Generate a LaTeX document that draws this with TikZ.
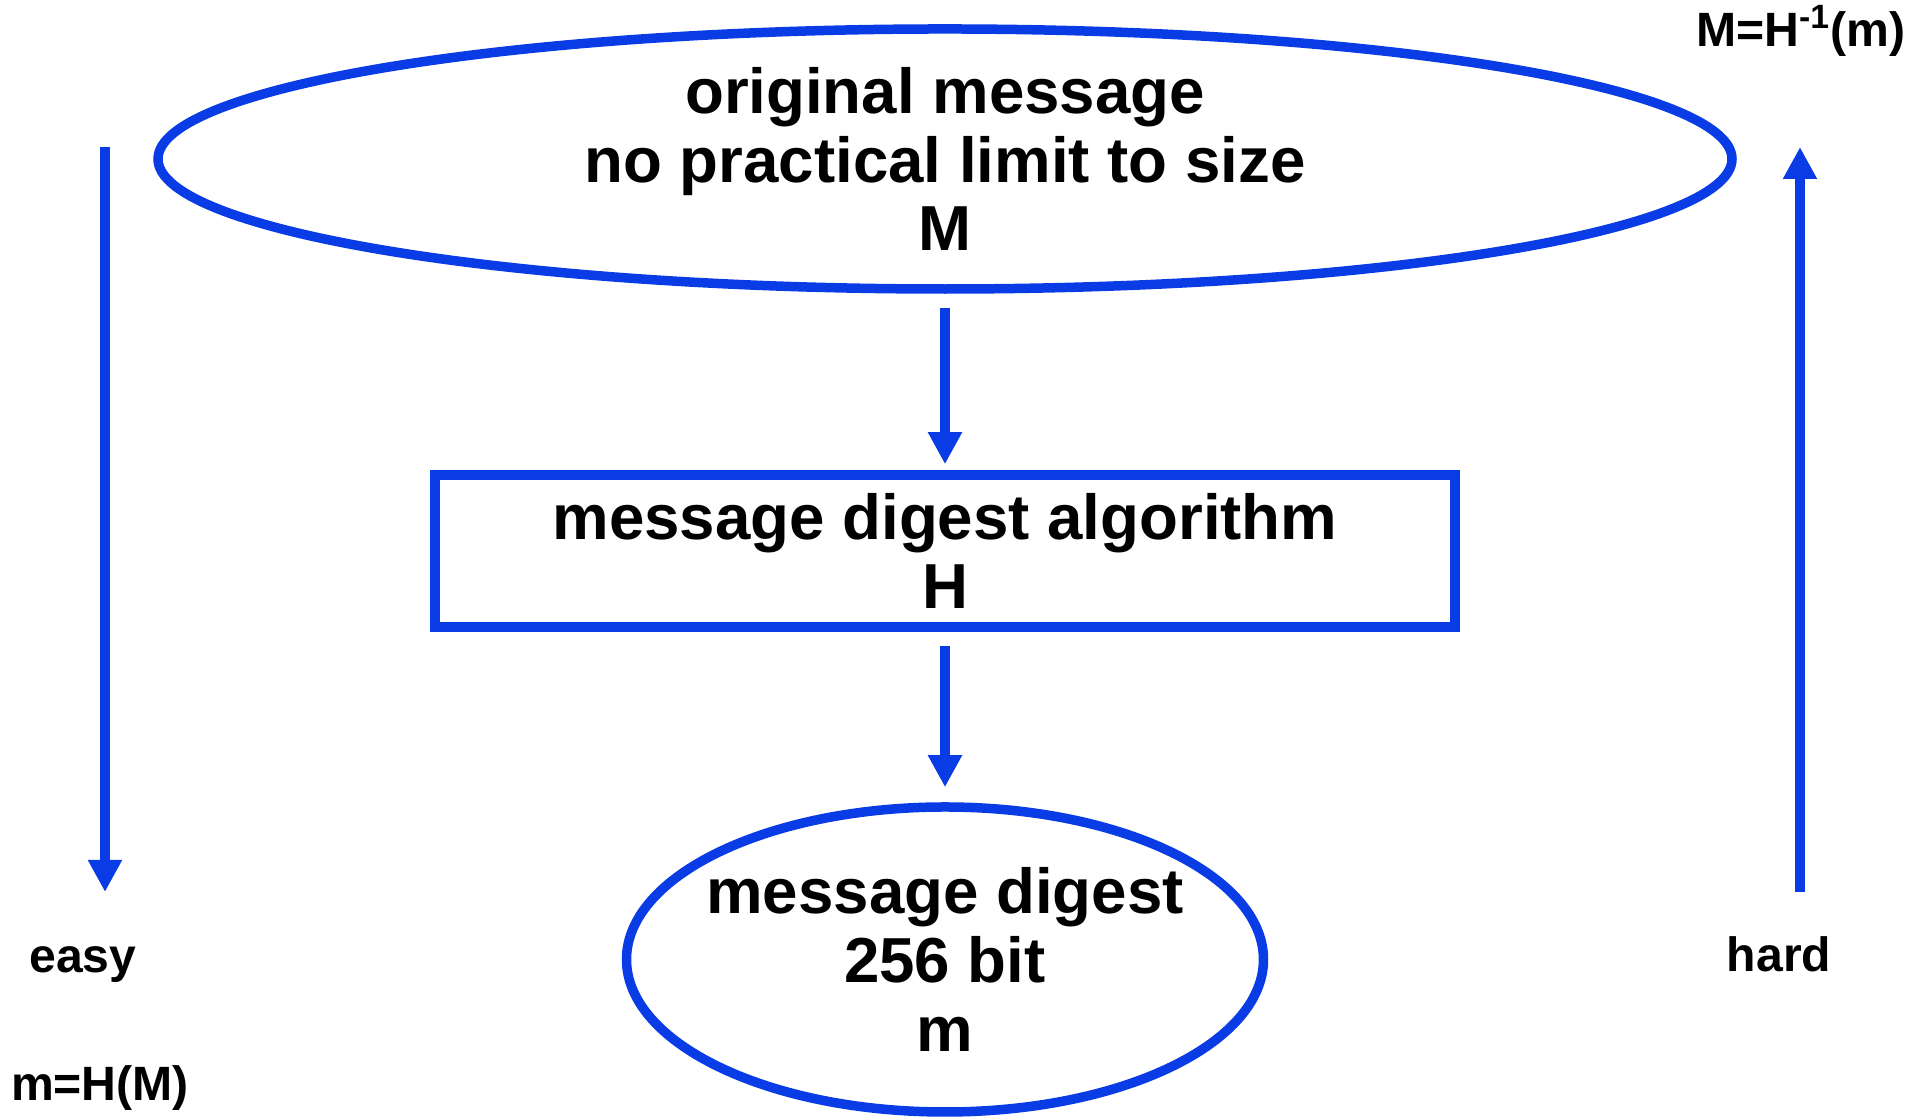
\documentclass[tikz,border=0pt]{standalone}
\usepackage{fontspec}
\setmainfont{Liberation Sans}
\usetikzlibrary{arrows.meta,shapes.geometric}
\definecolor{hashblue}{RGB}{10,60,230}
\tikzset{
  bigtext/.style={font=\fontsize{18.1}{19.6}\selectfont\bfseries, align=center, inner sep=0pt},
  smalltext/.style={font=\fontsize{13.7}{15}\selectfont\bfseries, inner sep=0pt},
  outline/.style={draw=hashblue, line width=0.95mm},
  flow/.style={draw=hashblue, line width=1mm, -{Triangle[width=3.2mm,length=3.2mm]}},
}
\begin{document}
\begin{tikzpicture}
  \useasboundingbox (0,0) rectangle (19.21,11.20);

  % Nachricht, Algorithmus, Digest
  \node[bigtext, outline, ellipse, minimum width=15.74cm, minimum height=2.54cm]
    (msg) at (9.45,9.61) {original message\\no practical limit to size\\M};
  \node[bigtext, outline, rectangle, minimum width=10.20cm, minimum height=1.52cm]
    (algo) at (9.45,5.69) {message digest algorithm\\H};
  \node[bigtext, outline, ellipse, inner xsep=-3mm, minimum width=6.37cm, minimum height=3.05cm]
    (digest) at (9.45,1.605) {message digest\\256 bit\\m};

  % Pfeile dazwischen
  \draw[flow, shorten <=1.4mm, shorten >=0.6mm] (msg.south) -- (algo.north);
  \draw[flow, shorten <=1.4mm, shorten >=1.5mm] (algo.south) -- (digest.north);

  % Seitenpfeile
  \coordinate (easytop) at (1.05,9.73);
  \coordinate (easybot) at (1.05,2.28);
  \coordinate (hardbot) at (18.00,2.28);
  \coordinate (hardtop) at (18.00,9.73);
  \draw[flow] (easytop) -- (easybot);
  \draw[flow] (hardbot) -- (hardtop);

  % Beschriftungen
  \node[smalltext] (easy) at (0.83,1.55) {easy};
  \node[smalltext] (hard) at (17.79,1.66) {hard};
  \node[smalltext] (fwd) at (1.00,0.32) {m=H(M)};
  \node[smalltext] (inv) at (18.01,10.89) {M=H\textsuperscript{-1}(m)};
\end{tikzpicture}
\end{document}
